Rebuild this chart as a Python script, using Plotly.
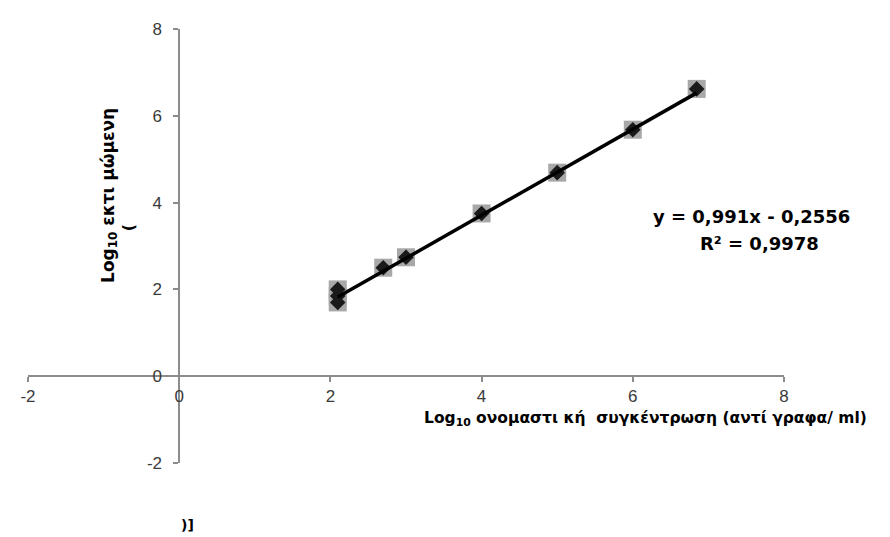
import plotly.graph_objects as go

# Data
x_vals = [2.097, 2.097, 2.097, 2.699, 3.0, 4.0, 5.0, 6.0, 6.845]
y_vals = [2.0, 1.85, 1.7, 2.5, 2.74, 3.75, 4.69, 5.68, 6.62]
slope = 0.991
intercept = -0.2556
eq_text = "y = 0,991x - 0,2556"
r2_text = "R² = 0,9978"
x_ticks = [-2, 0, 2, 4, 6, 8]
x_ticktext = ["-2", "0", "2", "4", "6", "8"]
y_ticks = [-2, 0, 2, 4, 6, 8]
y_ticktext = ["-2", "0", "2", "4", "6", "8"]
x_title = "Log<sub>10</sub> ονομαστι κή  συγκέντρωση (αντί γραφα/ ml)"
y_title_main = "Log<sub>10</sub> εκτι μώμενη"
y_title_second = "("
footer_text = ")]"

x_line = [min(x_vals), max(x_vals)]
y_line = [slope * v + intercept for v in x_line]

fig = go.Figure()
fig.add_trace(go.Scatter(x=x_vals, y=y_vals, mode="markers",
                         marker=dict(symbol="square", size=18, color="#a8a8a8"),
                         showlegend=False, hoverinfo="skip"))
fig.add_trace(go.Scatter(x=x_vals, y=y_vals, mode="markers",
                         marker=dict(symbol="diamond", size=12, color="#1a1a1a"),
                         showlegend=False))
fig.add_trace(go.Scatter(x=x_line, y=y_line, mode="lines",
                         line=dict(color="black", width=3.5), showlegend=False))

tick_font = dict(family="Liberation Sans, Arial, sans-serif", size=17, color="#3a3a3a")
axis_common = dict(showline=True, linecolor="#8c8c8c", linewidth=1.5,
                   ticks="outside", ticklen=5, tickcolor="#8c8c8c", tickwidth=1.5,
                   showgrid=False, zeroline=False, tickfont=tick_font)

# The page body adds an 8px offset; plot area targets page px x 21..784, y 23..463
PL, PR, PT, PB = 21, 784, 23, 463
OFF = 8
W, H = 890, 537
pw, ph = PR - PL, PB - PT

fig.update_layout(
    width=W, height=H,
    margin=dict(l=PL - OFF, r=W - (PR - OFF), t=PT - OFF, b=H - (PB - OFF)),
    paper_bgcolor="white", plot_bgcolor="white",
    xaxis=dict(range=[-2, 8], tickvals=x_ticks, ticktext=x_ticktext,
               anchor="free", position=0.2, **axis_common),
    yaxis=dict(range=[-2, 8], tickvals=y_ticks, ticktext=y_ticktext,
               anchor="free", position=0.2, ticklabelstandoff=8, **axis_common),
)


def px_to_paper(px, py):
    return (px - PL) / pw, 1 - (py - PT) / ph


bold_font = dict(family="DejaVu Sans, sans-serif", color="black", weight="bold")
ann = []
ex, ey = px_to_paper(853, 213)
ann.append(dict(text=eq_text, x=ex, y=ey, xanchor="right", font=dict(size=18, **bold_font)))
rx, ry = px_to_paper(821, 240)
ann.append(dict(text=r2_text, x=rx, y=ry, xanchor="right", font=dict(size=18, **bold_font)))
tx, ty = px_to_paper(870, 418)
ann.append(dict(text=x_title, x=tx, y=ty, xanchor="right", font=dict(size=15.5, **bold_font)))
yx, yy = px_to_paper(103, 192)
ann.append(dict(text=y_title_main, x=yx, y=yy, xanchor="center", textangle=-90,
                font=dict(size=17, **bold_font)))
y2x, y2y = px_to_paper(122, 225)
ann.append(dict(text=y_title_second, x=y2x, y=y2y, xanchor="center", textangle=-90,
                font=dict(size=16, **bold_font)))
bx, by = px_to_paper(182, 526)
ann.append(dict(text=footer_text, x=bx, y=by, xanchor="center", font=dict(size=14, **bold_font)))
for a in ann:
    a.update(xref="paper", yref="paper", yanchor="middle", showarrow=False)
fig.update_layout(annotations=ann)

fig.write_html("out.html")
